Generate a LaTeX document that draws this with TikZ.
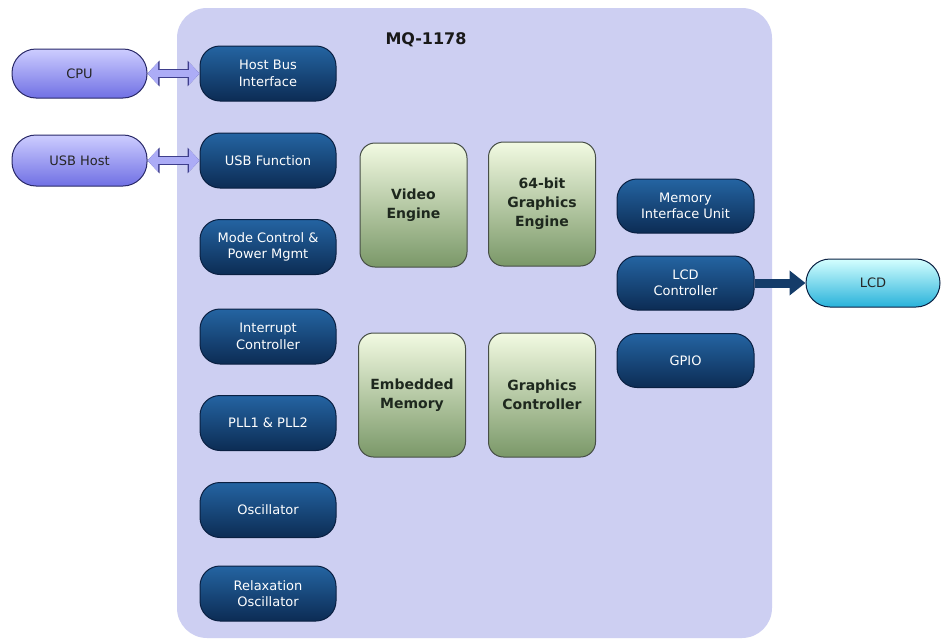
\documentclass[tikz,border=0pt]{standalone}
\usepackage{fontspec}
\setmainfont{DejaVu Sans}
\usetikzlibrary{arrows.meta}
\definecolor{chipbg}{RGB}{205,207,242}
\definecolor{dktop}{RGB}{36,100,162}
\definecolor{dkbot}{RGB}{12,44,84}
\definecolor{dkline}{RGB}{10,32,66}
\definecolor{grtop}{RGB}{242,250,226}
\definecolor{grbot}{RGB}{122,152,104}
\definecolor{grline}{RGB}{70,78,70}
\definecolor{grtext}{RGB}{30,40,30}
\definecolor{pptop}{RGB}{205,205,255}
\definecolor{ppbot}{RGB}{112,112,228}
\definecolor{ppline}{RGB}{42,42,105}
\definecolor{lcdtop}{RGB}{212,255,255}
\definecolor{lcdbot}{RGB}{40,178,218}
\definecolor{arrfill}{RGB}{172,172,246}
\definecolor{arrline}{RGB}{62,62,140}
\definecolor{lcdarr}{RGB}{20,60,105}
\tikzset{
  darkbox/.style={draw=dkline, line width=1pt, rounded corners=20pt, top color=dktop, bottom color=dkbot,
    minimum width=136pt, minimum height=55pt, inner sep=1pt, align=center, text=white,
    font=\fontsize{13}{16.5}\selectfont},
  greenbox/.style={draw=grline, line width=1pt, rounded corners=15pt, top color=grtop, bottom color=grbot,
    minimum width=107pt, minimum height=124pt, inner sep=1pt, align=center, text=grtext,
    font=\fontsize{14}{19}\selectfont\bfseries},
  purplepill/.style={draw=ppline, line width=1pt, rounded corners=24pt, top color=pptop, bottom color=ppbot,
    minimum width=135pt, minimum height=49pt, inner sep=1pt, align=center, text=black!85,
    font=\fontsize{13}{16}\selectfont},
  lcdpill/.style={draw=dkline, line width=1pt, rounded corners=24pt, top color=lcdtop, bottom color=lcdbot,
    minimum width=134pt, minimum height=48pt, inner sep=1pt, align=center, text=black!85,
    font=\fontsize{13}{16}\selectfont},
  dblarrow/.style={draw=arrfill, line width=7.5pt,
    arrows={Triangle[length=10.5pt,width=22pt]-Triangle[length=10.5pt,width=22pt]},
    preaction={draw=arrline, line width=9.5pt,
      arrows={Triangle[length=12pt,width=25pt]-Triangle[length=12pt,width=25pt]}}},
  lcdarrow/.style={draw=lcdarr, line width=9pt, arrows={-Triangle[length=16pt,width=24pt]}}
}
\begin{document}
\begin{tikzpicture}[x=1pt,y=-1pt]
\useasboundingbox[fill=white] (0,0) rectangle (946,640);
% chip outline
\fill[chipbg, rounded corners=30pt] (177,8) rectangle (772,638);
\node[font=\fontsize{16}{19}\selectfont\bfseries, text=black!90] (title) at (426,40) {MQ-1178};
% left column
\node[darkbox] (hbi) at (268,73.5) {Host Bus\\Interface};
\node[darkbox] (usbf) at (268,160.5) {USB Function};
\node[darkbox] (mode) at (268,247) {Mode Control \&\\Power Mgmt};
\node[darkbox] (intr) at (268,336.5) {Interrupt\\Controller};
\node[darkbox] (pll) at (268,423) {PLL1 \& PLL2};
\node[darkbox] (osc) at (268,510) {Oscillator};
\node[darkbox] (relax) at (268,593.5) {Relaxation\\Oscillator};
% external left
\node[purplepill] (cpu) at (79.5,73.5) {CPU};
\node[purplepill, minimum height=51pt] (usbh) at (79.5,160.5) {USB Host};
% center
\node[greenbox] (video) at (413.5,205) {Video\\Engine};
\node[greenbox] (gfx) at (542,204) {64-bit\\Graphics\\Engine};
\node[greenbox] (emb) at (412,395) {Embedded\\Memory};
\node[greenbox] (gctl) at (542,395) {Graphics\\Controller};
% right column
\node[darkbox, minimum width=137pt, minimum height=54pt] (miu) at (685.5,206) {Memory\\Interface Unit};
\node[darkbox, minimum width=137pt, minimum height=54pt] (lcdc) at (685.5,283) {LCD\\Controller};
\node[darkbox, minimum width=137pt, minimum height=54pt] (gpio) at (685.5,360.5) {GPIO};
% external right
\node[lcdpill] (lcd) at (873,283) {LCD};
% connectors
\draw[dblarrow] (cpu.east) -- (hbi.west);
\draw[dblarrow] (usbh.east) -- (usbf.west);
\draw[lcdarrow] (lcdc.east) -- (lcd.west);
\end{tikzpicture}
\end{document}
